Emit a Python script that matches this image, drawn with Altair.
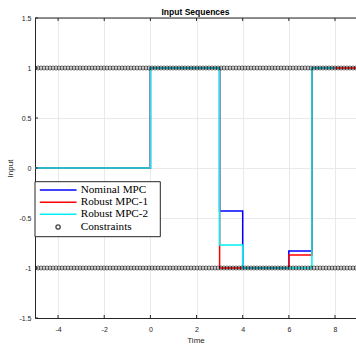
import altair as alt
import pandas as pd
import numpy as np

# ---- data ----
step_times = [-5, 0, 3, 4, 6, 7, 8]
nominal_vals = [0, 1, -0.43, -1, -0.83, 1, 1]
robust1_times = [-5, 0, 3, 4, 6, 7, 9]
robust1_vals = [0, 1, -1, -1, -0.87, 1, 1]
robust2_vals = [0, 1, -0.77, -1, -1, 1, 1]
constraint_times = list(np.arange(-5, 9.001, 0.13))
upper_limit = 1
lower_limit = -1
series_names = ["Nominal MPC", "Robust MPC-1", "Robust MPC-2", "Constraints"]
series_colors = ["#0000ff", "#ff0000", "#00eef5", "#000000"]
x_ticks = [-4, -2, 0, 2, 4, 6, 8]
y_ticks = [-1.5, -1, -0.5, 0, 0.5, 1, 1.5]

rows = []
for t, v in zip(step_times, nominal_vals):
    rows.append({"t": t, "u": v, "s": "Nominal MPC", "o": 0})
for t, v in zip(robust1_times, robust1_vals):
    rows.append({"t": t, "u": v, "s": "Robust MPC-1", "o": 1})
for t, v in zip(step_times, robust2_vals):
    rows.append({"t": t, "u": v, "s": "Robust MPC-2", "o": 2})
lines_df = pd.DataFrame(rows)

cons_df = pd.DataFrame(
    [{"t": t, "u": upper_limit} for t in constraint_times]
    + [{"t": t, "u": lower_limit} for t in constraint_times]
)

XD = [-5, 8.91]
YD = [-1.5, 1.5]
xs = alt.Scale(domain=XD, nice=False, zero=False)
ys = alt.Scale(domain=YD, nice=False, zero=False)
cscale = alt.Scale(domain=series_names, range=series_colors)

axis_common = dict(
    labelFont="Liberation Sans", labelFontSize=7, labelColor="#262626",
    titleFont="Liberation Sans", titleFontSize=8, titleFontWeight="normal",
    titleColor="#262626", domainColor="#262626", gridColor="#e3e3e3",
    gridWidth=0.8, ticks=False, labelExpr="toString(datum.value)",
)

lines = alt.Chart(lines_df).mark_line(interpolate="step-after", strokeWidth=1.5, clip=True).encode(
    x=alt.X("t:Q", scale=xs, axis=alt.Axis(values=x_ticks, title="Time", labelPadding=7,
                                            titlePadding=4, **axis_common)),
    y=alt.Y("u:Q", scale=ys, axis=alt.Axis(values=y_ticks, title="Input", labelPadding=4,
                                            titlePadding=4, **axis_common)),
    color=alt.Color("s:N", scale=cscale, legend=None),
    order="o:Q",
    detail="s:N",
)

cons = alt.Chart(cons_df).mark_point(shape="circle", filled=False, size=16, strokeWidth=0.85,
                                     color="black", clip=True).encode(
    x=alt.X("t:Q", scale=xs),
    y=alt.Y("u:Q", scale=ys),
)

# top border and inward tick marks
top_df = pd.DataFrame({"x1": [XD[0]], "x2": [XD[1]], "y": [YD[1]]})
top_line = alt.Chart(top_df).mark_rule(color="#262626", strokeWidth=1).encode(
    x=alt.X("x1:Q", scale=xs), x2="x2:Q", y=alt.Y("y:Q", scale=ys))
bt = pd.DataFrame({"t": x_ticks, "y1": [-1.5] * 7, "y2": [-1.47] * 7})
tt = pd.DataFrame({"t": x_ticks, "y1": [1.47] * 7, "y2": [1.5] * 7})
lt = pd.DataFrame({"u": y_ticks, "x1": [-5] * 7, "x2": [-4.87] * 7})
tick_b = alt.Chart(bt).mark_rule(color="#262626", strokeWidth=1).encode(
    x=alt.X("t:Q", scale=xs), y=alt.Y("y1:Q", scale=ys), y2="y2:Q")
tick_t = alt.Chart(tt).mark_rule(color="#262626", strokeWidth=1).encode(
    x=alt.X("t:Q", scale=xs), y=alt.Y("y1:Q", scale=ys), y2="y2:Q")
tick_l = alt.Chart(lt).mark_rule(color="#262626", strokeWidth=1).encode(
    y=alt.Y("u:Q", scale=ys), x=alt.X("x1:Q", scale=xs), x2="x2:Q")

# legend (in data coordinates)
leg_rows = [-0.22, -0.343, -0.463, -0.59]
box_df = pd.DataFrame({"x1": [-5], "x2": [0.43], "y1": [-0.137], "y2": [-0.687]})
box = alt.Chart(box_df).mark_rect(fill="white", stroke="#262626", strokeWidth=1).encode(
    x=alt.X("x1:Q", scale=xs), x2="x2:Q", y=alt.Y("y1:Q", scale=ys), y2="y2:Q")
sw_df = pd.DataFrame({"s": series_names[:3], "x1": [-4.79] * 3, "x2": [-3.2] * 3, "y": leg_rows[:3]})
swatch = alt.Chart(sw_df).mark_rule(strokeWidth=1.5).encode(
    x=alt.X("x1:Q", scale=xs), x2="x2:Q", y=alt.Y("y:Q", scale=ys),
    color=alt.Color("s:N", scale=cscale, legend=None))
lc_df = pd.DataFrame({"x": [-4.0], "y": [leg_rows[3]]})
leg_circ = alt.Chart(lc_df).mark_point(shape="circle", filled=False, size=18, strokeWidth=1.4,
                                       color="black").encode(
    x=alt.X("x:Q", scale=xs), y=alt.Y("y:Q", scale=ys))
lt_df = pd.DataFrame({"s": series_names, "x": [-3.02] * 4, "y": leg_rows})
leg_text = alt.Chart(lt_df).mark_text(align="left", baseline="middle", font="Liberation Serif",
                                      fontSize=11.2, color="black").encode(
    x=alt.X("x:Q", scale=xs), y=alt.Y("y:Q", scale=ys), text="s:N")

chart = alt.layer(lines, cons, top_line, tick_b, tick_t, tick_l, box, swatch, leg_circ, leg_text).properties(
    width=321, height=300,
    title=alt.TitleParams("Input Sequences", font="Liberation Sans", fontSize=8.5,
                          fontWeight="bold", color="#000000", offset=-2),
    autosize=alt.AutoSizeParams(type="none"),
    padding={"left": 35, "top": 18, "right": 0, "bottom": 26},
).configure_view(stroke=None).configure(background="white")

chart.save("out.html", embed_options={"renderer": "svg", "actions": False})
